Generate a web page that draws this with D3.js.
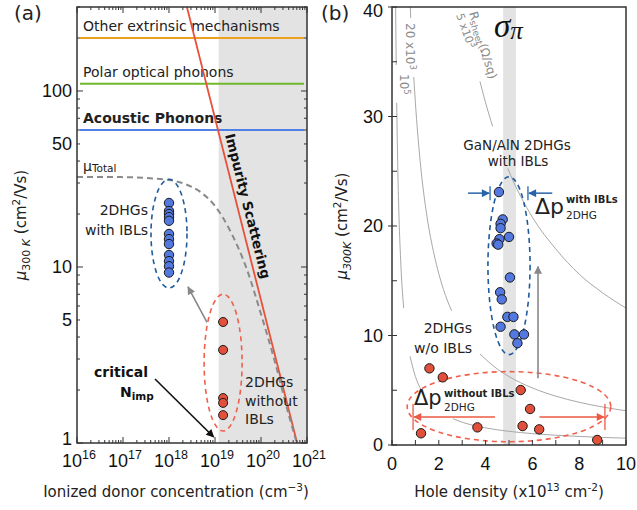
<!DOCTYPE html>
<html><head><meta charset="utf-8">
<script src="https://cdn.jsdelivr.net/npm/d3@7"></script>
<style>body{margin:0;background:#fff}svg{display:block}</style>
</head><body>
<svg id="c" width="637" height="510"></svg>
<script>
// ================= DATA =================
// Panel (a)
const mechanismNames = ["Other extrinsic mechanisms", "Polar optical phonons", "Acoustic Phonons"];
const mechanismMu = [200, 110, 60];
const mechanismColors = ["#f0a020", "#72b62c", "#4f7fe6"];
const impurityN = [2.45e18, 6.1e20];
const impurityMu = [300, 1];
const totalN = [1e16, 1e17, 1e18, 2e18, 5e18, 1e19, 2e19, 5e19, 1e20, 2e20, 4e20, 6e20];
const totalMu = [32.5, 32.4, 31.2, 29.9, 26.5, 22.2, 16.6, 9.6, 5.4, 2.9, 1.45, 1.0];
const bandStartN = 1.2e19;
const nWithIBL = 1e18;
const muWithIBL_a = [23.1, 20.8, 20.0, 19.2, 18.3, 15.4, 14.4, 13.5, 11.7, 10.8, 10.1, 9.3];
const nWithoutIBL = 1.5e19;
const muWithoutIBL_a = [4.87, 3.38, 1.80, 1.69, 1.44];
const xTickExpA = [16, 17, 18, 19, 20, 21];
const yTickLabelsA = [1, 5, 10, 50, 100];

// Panel (b)
const holeWith = [4.57, 4.73, 4.64, 4.64, 5.0, 4.59, 4.47, 4.54, 5.04, 4.62, 4.69, 4.93, 5.19, 4.64, 5.23, 5.64, 5.36];
const muWith = [23.1, 20.6, 20.2, 19.8, 19.0, 18.8, 18.4, 18.3, 15.3, 13.95, 13.3, 11.7, 11.7, 10.8, 10.1, 10.1, 9.3];
const holeWithout = [1.6, 2.17, 5.5, 5.9, 3.65, 5.58, 6.29, 1.24, 8.77];
const muWithout = [7.0, 6.18, 5.02, 3.29, 1.61, 1.73, 1.43, 1.07, 0.46];
const sigmaBand = [4.75, 5.3];
// Rsheet contours (null = gap for labels)
const rs100kP  = [0.156, 0.18, null, 0.2, 0.25, 0.3, 0.38, 0.5, null, 0.77, 1.0, 1.25, null, 2.6, 3, 4, 5, 6, 7, 8, 9, 10];
const rs100kMu = [40, 34.7, null, 31.25, 25, 20.8, 16.4, 12.5, null, 8.1, 6.25, 5.0, null, 2.4, 2.08, 1.56, 1.25, 1.04, 0.89, 0.78, 0.69, 0.625];
const rs20kP   = [0.78, 0.8, null, 0.93, 1.0, 1.2, 1.5, 1.8, 2.2, 2.55, null, 3.76, 4.5, 5, 6, 7, 8, 9, 10];
const rs20kMu  = [40, 39, null, 33.6, 31.25, 26, 20.8, 17.4, 14.2, 12.25, null, 8.31, 6.94, 6.25, 5.21, 4.46, 3.9, 3.47, 3.125];
const rs5kP    = [3.76, 4.0, 4.3, null, 4.95, 5.2, 5.5, 6, 7, 8, 9, 10];
const rs5kMu   = [33.2, 31.25, 29.1, null, 25.25, 24.0, 22.7, 20.8, 17.9, 15.6, 13.9, 12.5];
const xTicksB = [0, 2, 4, 6, 8, 10];
const yTicksB = [0, 10, 20, 30, 40];

// ================= DRAW =================
const svg = d3.select("#c");
svg.append("rect").attr("width", 637).attr("height", 510).attr("fill", "#fff");
const FONT = "DejaVu Sans, Verdana, sans-serif";
const NUMFONT = "Liberation Sans, Arial, sans-serif";
const TXT = "#222";

const defs = svg.append("defs");
function marker(id, color) {
  defs.append("marker").attr("id", id).attr("viewBox", "0 0 10 10")
    .attr("refX", 9).attr("refY", 5).attr("markerWidth", 10).attr("markerHeight", 8)
    .attr("markerUnits", "userSpaceOnUse").attr("orient", "auto")
    .append("path").attr("d", "M0,0 L10,5 L0,10 Z").attr("fill", color);
}
marker("arBlack", "#111"); marker("arGray", "#888"); marker("arRed", "#ec5a44"); marker("arBlue", "#2a64a8");

function rich(parent, x, y, parts, attrs = {}) {
  const t = parent.append("text").attr("x", x).attr("y", y);
  for (const [k, v] of Object.entries(attrs)) t.attr(k, v);
  let cur = 0;
  parts.forEach(p => {
    const s = t.append("tspan").text(p.t);
    const sh = p.shift || 0;
    if (sh !== cur) { s.attr("dy", sh - cur); cur = sh; }
    if (p.fs) s.attr("font-size", p.fs);
    if (p.fw) s.attr("font-weight", p.fw);
    if (p.fi) s.attr("font-style", "italic");
    if (p.ff) s.attr("font-family", p.ff);
  });
  return t;
}

// ---------- Panel (a) ----------
const xL = d3.scaleLog().domain([1e16, 1e21]).range([77, 307]);
const yL = d3.scaleLog().domain([1, 300]).range([443, 7]);
const gA = svg.append("g");
defs.append("clipPath").attr("id", "clipA").append("rect")
  .attr("x", 77).attr("y", 7).attr("width", 230).attr("height", 436);

gA.append("rect").attr("x", xL(bandStartN)).attr("y", yL(300))
  .attr("width", xL(1e21) - xL(bandStartN)).attr("height", yL(1) - yL(300)).attr("fill", "#e3e3e3");

mechanismMu.forEach((m, i) => {
  gA.append("line").attr("x1", xL(1e16) + 3).attr("x2", xL(1e21) - 3)
    .attr("y1", yL(m)).attr("y2", yL(m)).attr("stroke", mechanismColors[i]).attr("stroke-width", 2);
  gA.append("text").attr("x", 83).attr("y", yL(m) - 7).text(mechanismNames[i])
    .attr("font-family", FONT).attr("font-size", 14).attr("fill", TXT)
    .attr("font-weight", i === 2 ? "bold" : "normal");
});

const lineA = d3.line().x(d => xL(d[0])).y(d => yL(d[1]));
gA.append("path").attr("clip-path", "url(#clipA)")
  .attr("d", lineA(d3.zip(impurityN, impurityMu))).attr("fill", "none")
  .attr("stroke", "#e8503a").attr("stroke-width", 1.8);
gA.append("path").attr("clip-path", "url(#clipA)")
  .attr("d", lineA.curve(d3.curveMonotoneX)(d3.zip(totalN, totalMu))).attr("fill", "none")
  .attr("stroke", "#8a8a8a").attr("stroke-width", 2).attr("stroke-dasharray", "6,4");

// Impurity scattering label
gA.append("text").attr("transform", "translate(225,135) rotate(75.8)")
  .text("Impurity Scattering").attr("font-family", FONT).attr("font-size", 13.5)
  .attr("font-weight", "bold").attr("fill", "#111");
// mu Total
rich(gA, 83, 171, [{t: "μ", fs: 14}, {t: "Total", fs: 10.5, shift: 1}], {"font-family": FONT, fill: TXT});

// ellipses
gA.append("ellipse").attr("cx", xL(nWithIBL)).attr("cy", (yL(31.5) + yL(7.6)) / 2)
  .attr("rx", 18).attr("ry", (yL(7.6) - yL(31.5)) / 2)
  .attr("fill", "none").attr("stroke", "#1f5b9e").attr("stroke-width", 1.6).attr("stroke-dasharray", "5,4");
gA.append("ellipse").attr("cx", xL(nWithoutIBL)).attr("cy", (yL(7.0) + yL(1.17)) / 2)
  .attr("rx", 19).attr("ry", (yL(1.17) - yL(7.0)) / 2)
  .attr("fill", "none").attr("stroke", "#f0604c").attr("stroke-width", 1.6).attr("stroke-dasharray", "5,4");

// arrows
gA.append("line").attr("x1", 207).attr("y1", yL(4.85)).attr("x2", 188).attr("y2", yL(7.7))
  .attr("stroke", "#888").attr("stroke-width", 1.6).attr("marker-end", "url(#arGray)");
gA.append("line").attr("x1", 155).attr("y1", 379).attr("x2", xL(bandStartN) - 5).attr("y2", 437)
  .attr("stroke", "#111").attr("stroke-width", 1.6).attr("marker-end", "url(#arBlack)");

// points
gA.selectAll("circle.wa").data(muWithIBL_a).join("circle")
  .attr("cx", xL(nWithIBL)).attr("cy", d => yL(d)).attr("r", 4.7)
  .attr("fill", "#5378e0").attr("stroke", "#1a1a1a").attr("stroke-width", 1);
gA.selectAll("circle.woa").data(muWithoutIBL_a).join("circle")
  .attr("cx", xL(nWithoutIBL)).attr("cy", d => yL(d)).attr("r", 4.5)
  .attr("fill", "#e0503a").attr("stroke", "#1a1a1a").attr("stroke-width", 1);

// labels
const labA = {"font-family": FONT, "font-size": 14, fill: TXT};
const setA = s => { for (const k in labA) s.attr(k, labA[k]); };
gA.append("text").attr("x", 148).attr("y", 215).attr("text-anchor", "end").text("2DHGs").call(setA);
gA.append("text").attr("x", 148).attr("y", 235).attr("text-anchor", "end").text("with IBLs").call(setA);
["2DHGs", "without", "IBLs"].forEach((t, i) => {
  gA.append("text").attr("x", 245).attr("y", 387 + i * 18.5).text(t).call(setA);
});
gA.append("text").attr("x", 148).attr("y", 377).attr("text-anchor", "end").text("critical")
  .attr("font-family", FONT).attr("font-size", 14).attr("font-weight", "bold").attr("fill", "#111");
rich(gA, 120, 397, [{t: "N", fs: 14}, {t: "imp", fs: 10.5, shift: 3}],
  {"font-family": FONT, "font-weight": "bold", fill: "#111"});

// frame & ticks
gA.append("rect").attr("x", 77).attr("y", 7).attr("width", 230).attr("height", 436)
  .attr("fill", "none").attr("stroke", "#333").attr("stroke-width", 1.5);
const isMajor = v => Math.abs(Math.log10(v) - Math.round(Math.log10(v))) < 1e-9;
xL.ticks().forEach(v => {
  const L = isMajor(v) ? 6 : 3, x = xL(v);
  gA.append("line").attr("x1", x).attr("x2", x).attr("y1", 443).attr("y2", 443 - L).attr("stroke", "#333");
  gA.append("line").attr("x1", x).attr("x2", x).attr("y1", 7).attr("y2", 7 + L).attr("stroke", "#333");
});
yL.ticks().forEach(v => {
  const L = isMajor(v) ? 6 : 3, y = yL(v);
  gA.append("line").attr("x1", 77).attr("x2", 77 + L).attr("y1", y).attr("y2", y).attr("stroke", "#333");
  gA.append("line").attr("x1", 307).attr("x2", 307 - L).attr("y1", y).attr("y2", y).attr("stroke", "#333");
});
xTickExpA.forEach(e => {
  rich(gA, xL(Math.pow(10, e)) + 2, 467, [{t: "10", fs: 18}, {t: String(e), fs: 12.5, shift: -8}],
    {"font-family": NUMFONT, fill: "#111", "text-anchor": "middle"});
});
yTickLabelsA.forEach(v => {
  gA.append("text").attr("x", 72).attr("y", Math.min(yL(v), 439)).attr("dy", "0.35em").attr("text-anchor", "end")
    .text(v).attr("font-family", NUMFONT).attr("font-size", 18).attr("fill", "#111");
});
rich(gA, 176, 497, [{t: "Ionized donor concentration (cm"}, {t: "−3", fs: 10.5, shift: -6}, {t: ")", shift: 0}],
  {"font-family": FONT, "font-size": 15, fill: TXT, "text-anchor": "middle"});
rich(gA, 0, 0, [{t: "μ", fi: 1}, {t: "300 ", fs: 11, shift: 4}, {t: "K", fs: 11, fi: 1, shift: 4}, {t: " (cm", shift: 0}, {t: "2", fs: 10.5, shift: -6}, {t: "/Vs)", shift: 0}],
  {"font-family": FONT, "font-size": 15, fill: TXT, "text-anchor": "middle", transform: "translate(26,225) rotate(-90)"});
gA.append("text").attr("x", 14).attr("y", 20).text("(a)").attr("font-family", FONT).attr("font-size", 20).attr("fill", TXT);

// ---------- Panel (b) ----------
const xR = d3.scaleLinear().domain([0, 10]).range([392, 626]);
const yR = d3.scaleLinear().domain([0, 40]).range([445, 7]);
const gB = svg.append("g");
defs.append("clipPath").attr("id", "clipB").append("rect")
  .attr("x", 392).attr("y", 7).attr("width", 234).attr("height", 438);

gB.append("rect").attr("x", xR(sigmaBand[0])).attr("y", yR(40))
  .attr("width", xR(sigmaBand[1]) - xR(sigmaBand[0])).attr("height", yR(0) - yR(40)).attr("fill", "#e3e3e3");

const lineB = d3.line().defined(d => d[0] != null).x(d => xR(d[0])).y(d => yR(d[1])).curve(d3.curveMonotoneX);
[[rs100kP, rs100kMu], [rs20kP, rs20kMu], [rs5kP, rs5kMu]].forEach(([P, M]) => {
  gB.append("path").attr("clip-path", "url(#clipB)").attr("d", lineB(d3.zip(P, M)))
    .attr("fill", "none").attr("stroke", "#a8a8a8").attr("stroke-width", 1);
});
// contour labels
const cl = {"font-family": FONT, "font-size": 12, fill: "#8a8a8a"};
rich(gB, 0, 0, [{t: "10"}, {t: "5", fs: 8.5, shift: -4}], Object.assign({transform: "translate(400,74) rotate(90)"}, cl));
rich(gB, 0, 0, [{t: "20 x10"}, {t: "3", fs: 8.5, shift: -4}], Object.assign({transform: "translate(406,23) rotate(90)"}, cl));
rich(gB, 0, 0, [{t: "R"}, {t: "sheet", fs: 9, shift: 2}, {t: "(Ω/sq)", shift: 0}], Object.assign({transform: "translate(469,13) rotate(73)"}, cl));
rich(gB, 0, 0, [{t: "5 x10"}, {t: "3", fs: 8.5, shift: -4}], Object.assign({transform: "translate(456,15) rotate(70)"}, cl, {"font-size": 11}));

// sigma_pi
rich(gB, 494, 37, [{t: "σ", fs: 33}, {t: "π", fs: 25, shift: 2}],
  {"font-family": "Liberation Serif, Times New Roman, serif", "font-style": "italic", fill: "#111"});

// ellipses
gB.append("ellipse").attr("cx", xR(5.0)).attr("cy", (yR(24.5) + yR(8.25)) / 2)
  .attr("rx", xR(5.0) - xR(4.1)).attr("ry", (yR(8.25) - yR(24.5)) / 2)
  .attr("fill", "none").attr("stroke", "#1f5b9e").attr("stroke-width", 1.6).attr("stroke-dasharray", "5,4");
gB.append("ellipse").attr("cx", xR(5.0)).attr("cy", (yR(6.7) + yR(0.3)) / 2)
  .attr("rx", xR(5.0) - xR(0.65)).attr("ry", (yR(0.3) - yR(6.7)) / 2)
  .attr("fill", "none").attr("stroke", "#f0604c").attr("stroke-width", 1.6).attr("stroke-dasharray", "5,4");

// gray vertical arrow
gB.append("line").attr("x1", xR(6.24)).attr("x2", xR(6.24)).attr("y1", yR(6.1)).attr("y2", yR(16.3))
  .attr("stroke", "#888").attr("stroke-width", 1.6).attr("marker-end", "url(#arGray)");

// blue spread arrows
{
  const y = yR(23.0), xa = xR(4.19), xb = xR(5.81);
  gB.append("line").attr("x1", xa).attr("x2", xa).attr("y1", y - 7).attr("y2", y + 7).attr("stroke", "#2a64a8").attr("stroke-width", 1.3);
  gB.append("line").attr("x1", xb).attr("x2", xb).attr("y1", y - 7).attr("y2", y + 7).attr("stroke", "#2a64a8").attr("stroke-width", 1.3);
  gB.append("line").attr("x1", xR(3.25)).attr("x2", xa - 1).attr("y1", y).attr("y2", y).attr("stroke", "#2a64a8").attr("stroke-width", 1.5).attr("marker-end", "url(#arBlue)");
  gB.append("line").attr("x1", xR(6.85)).attr("x2", xb + 1).attr("y1", y).attr("y2", y).attr("stroke", "#2a64a8").attr("stroke-width", 1.5).attr("marker-end", "url(#arBlue)");
}
// red spread arrows
{
  const y = yR(2.56), xa = xR(0.9), xb = xR(9.1);
  gB.append("line").attr("x1", xa).attr("x2", xa).attr("y1", y - 13).attr("y2", y + 13).attr("stroke", "#ec5a44").attr("stroke-width", 1.3);
  gB.append("line").attr("x1", xb).attr("x2", xb).attr("y1", y - 13).attr("y2", y + 13).attr("stroke", "#ec5a44").attr("stroke-width", 1.3);
  gB.append("line").attr("x1", xR(4.4)).attr("x2", xa + 1).attr("y1", y).attr("y2", y).attr("stroke", "#ec5a44").attr("stroke-width", 1.5).attr("marker-end", "url(#arRed)");
  gB.append("line").attr("x1", xR(6.3)).attr("x2", xb - 1).attr("y1", y).attr("y2", y).attr("stroke", "#ec5a44").attr("stroke-width", 1.5).attr("marker-end", "url(#arRed)");
}

// points
gB.selectAll("circle.wb").data(d3.zip(holeWith, muWith)).join("circle")
  .attr("cx", d => xR(d[0])).attr("cy", d => yR(d[1])).attr("r", 4.7)
  .attr("fill", "#5378e0").attr("stroke", "#1a1a1a").attr("stroke-width", 1);
gB.selectAll("circle.wob").data(d3.zip(holeWithout, muWithout)).join("circle")
  .attr("cx", d => xR(d[0])).attr("cy", d => yR(d[1])).attr("r", 4.7)
  .attr("fill", "#e0503a").attr("stroke", "#1a1a1a").attr("stroke-width", 1);

// labels
const lb = {"font-family": FONT, "font-size": 14, fill: TXT};
const tx = (g, x, y, t, anchor, extra = {}) => {
  const s = g.append("text").attr("x", x).attr("y", y).attr("text-anchor", anchor).text(t);
  for (const k in lb) s.attr(k, lb[k]);
  for (const k in extra) s.attr(k, extra[k]);
  return s;
};
tx(gB, 517, 150, "GaN/AlN 2DHGs", "middle", {"font-size": 13.5});
tx(gB, 518, 166, "with IBLs", "middle", {"font-size": 13.5});
tx(gB, 472, 333, "2DHGs", "end");
tx(gB, 472, 353, "w/o IBLs", "end");
tx(gB, 535, 214, "Δp", "start", {"font-size": 22});
tx(gB, 566, 203, "with IBLs", "start", {"font-size": 10, "font-weight": "bold"});
tx(gB, 566, 219, "2DHG", "start", {"font-size": 10.5});
tx(gB, 414, 405, "Δp", "start", {"font-size": 21});
tx(gB, 444, 397, "without  IBLs", "start", {"font-size": 10, "font-weight": "bold"});
tx(gB, 444, 411, "2DHG", "start", {"font-size": 10.5});

// frame & ticks
gB.append("rect").attr("x", 392).attr("y", 7).attr("width", 234).attr("height", 438)
  .attr("fill", "none").attr("stroke", "#333").attr("stroke-width", 1.5);
d3.range(0, 10.01, 1).forEach(v => {
  gB.append("line").attr("x1", xR(v)).attr("x2", xR(v)).attr("y1", 445).attr("y2", 440).attr("stroke", "#333");
});
d3.range(0, 40.01, 5).forEach(v => {
  const major = v % 10 === 0;
  gB.append("line").attr("x1", major ? 388 : 392).attr("x2", 397).attr("y1", yR(v)).attr("y2", yR(v)).attr("stroke", "#333");
});
xTicksB.forEach(v => {
  gB.append("text").attr("x", xR(v)).attr("y", 470).attr("text-anchor", "middle").text(v)
    .attr("font-family", NUMFONT).attr("font-size", 18).attr("fill", "#111");
});
yTicksB.forEach(v => {
  gB.append("text").attr("x", 383).attr("y", Math.max(yR(v), 11)).attr("dy", "0.35em").attr("text-anchor", "end").text(v)
    .attr("font-family", NUMFONT).attr("font-size", 18).attr("fill", "#111");
});
rich(gB, 509, 497, [{t: "Hole density (x10"}, {t: "13", fs: 10.5, shift: -6}, {t: " cm", shift: 0}, {t: "-2", fs: 10.5, shift: -6}, {t: ")", shift: 0}],
  {"font-family": FONT, "font-size": 15, fill: TXT, "text-anchor": "middle"});
rich(gB, 0, 0, [{t: "μ", fi: 1}, {t: "300K", fs: 11, fi: 1, shift: 4}, {t: " (cm", shift: 0}, {t: "2", fs: 10.5, shift: -6}, {t: "/Vs)", shift: 0}],
  {"font-family": FONT, "font-size": 15, fill: TXT, "text-anchor": "middle", transform: "translate(347,226) rotate(-90)"});
gB.append("text").attr("x", 321).attr("y", 20).text("(b)").attr("font-family", FONT).attr("font-size", 20).attr("fill", TXT);
</script>
</body></html>
